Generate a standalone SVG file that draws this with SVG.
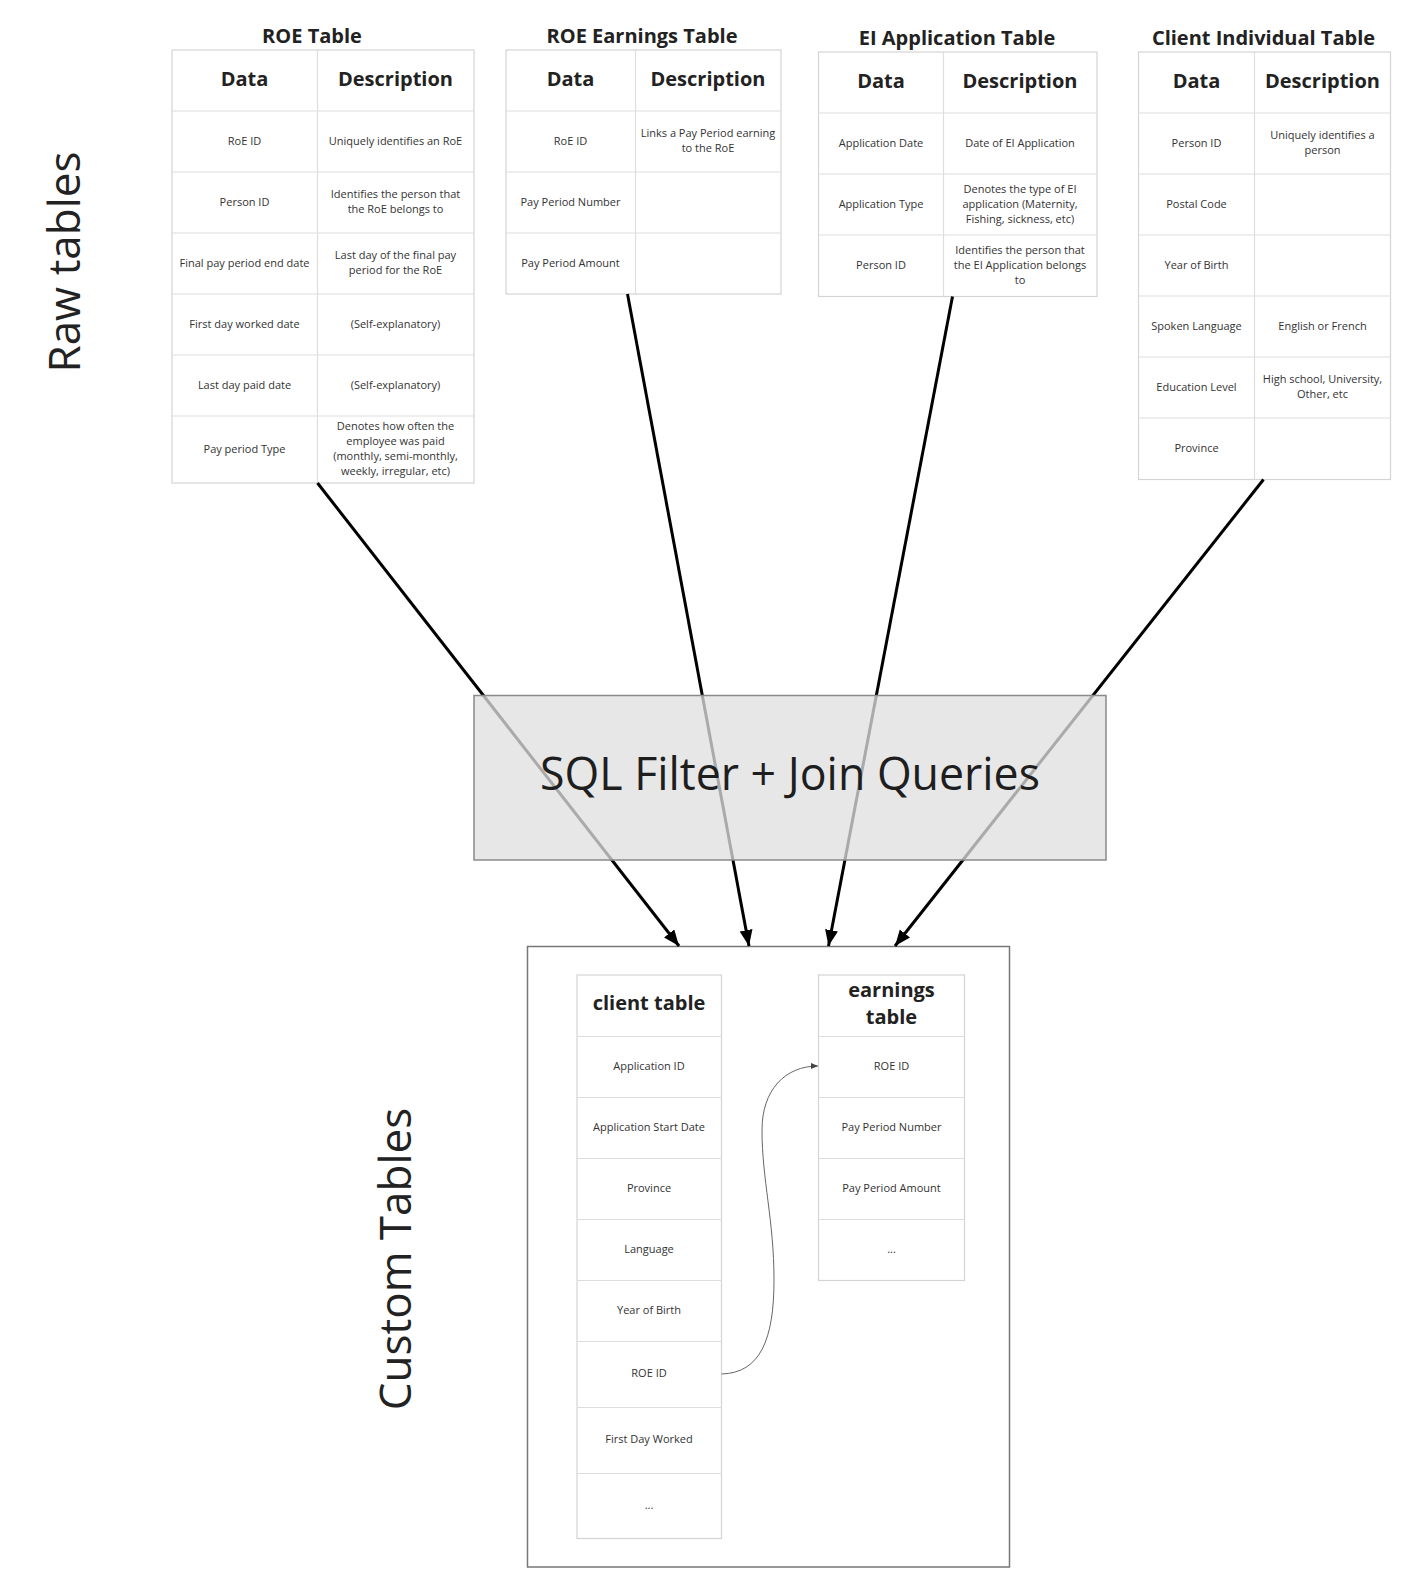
<svg xmlns="http://www.w3.org/2000/svg" width="1411" height="1594" viewBox="0 0 1411 1594">
<style>
.bg{fill:#ffffff}
.tbl{fill:#ffffff;stroke:#d4d4d4;stroke-width:1.2}
.grid{stroke:#dedede;stroke-width:1.2;fill:none}
.title{font-family:"Open Sans","Liberation Sans",sans-serif;font-weight:bold;font-size:20px;fill:#222;text-anchor:middle}
.hdr{font-family:"Open Sans","Liberation Sans",sans-serif;font-weight:bold;font-size:20px;fill:#222;text-anchor:middle;dominant-baseline:central;transform:translateY(-2px)}
.cell{font-family:"Open Sans","Liberation Sans",sans-serif;font-size:11px;fill:#333;text-anchor:middle;dominant-baseline:central;transform:translateY(-1.5px)}
.big{font-family:"Open Sans","Liberation Sans",sans-serif;font-size:44px;fill:#222;text-anchor:middle}
.sqltxt{font-family:"Open Sans","Liberation Sans",sans-serif;font-size:46px;fill:#1e1e1e;text-anchor:middle}
.conn{stroke:#000;stroke-width:3;fill:none}
.link{stroke:#666;stroke-width:1;fill:none}
</style>
<defs>
<marker id="arr" markerUnits="userSpaceOnUse" markerWidth="18" markerHeight="14" refX="16" refY="6.5" orient="auto">
<path d="M0,0 L16,6.5 L0,13 z" fill="#000"/>
</marker>
<marker id="arrs" markerUnits="userSpaceOnUse" markerWidth="8" markerHeight="6" refX="7" refY="3" orient="auto">
<path d="M0,0 L7,3 L0,6 z" fill="#444"/>
</marker>
</defs>
<rect class="bg" x="0" y="0" width="1411" height="1594"/>

<g id="label-raw"><text class="big" transform="translate(80,262) rotate(-90)">Raw tables</text></g>
<g id="label-custom"><text class="big" transform="translate(411,1259) rotate(-90)">Custom Tables</text></g>

<g id="roe-table">
<text class="title" x="312" y="42.5">ROE Table</text>
<rect class="tbl" x="172" y="50" width="302" height="433"/>
<path class="grid" d="M317.5,50V483 M172,111H474 M172,172H474 M172,233H474 M172,294H474 M172,355H474 M172,416H474"/>
<text class="hdr" x="244.5" y="80.5">Data</text>
<text class="hdr" x="395.5" y="80.5">Description</text>
<text class="cell" x="244.5" y="141.5">RoE ID</text>
<text class="cell" x="395.5" y="141.5">Uniquely identifies an RoE</text>
<text class="cell" x="244.5" y="202.5">Person ID</text>
<text class="cell" x="395.5" y="195">Identifies the person that</text>
<text class="cell" x="395.5" y="210">the RoE belongs to</text>
<text class="cell" x="244.5" y="263.5">Final pay period end date</text>
<text class="cell" x="395.5" y="256">Last day of the final pay</text>
<text class="cell" x="395.5" y="271">period for the RoE</text>
<text class="cell" x="244.5" y="324.5">First day worked date</text>
<text class="cell" x="395.5" y="324.5">(Self-explanatory)</text>
<text class="cell" x="244.5" y="385.5">Last day paid date</text>
<text class="cell" x="395.5" y="385.5">(Self-explanatory)</text>
<text class="cell" x="244.5" y="449.5">Pay period Type</text>
<text class="cell" x="395.5" y="427">Denotes how often the</text>
<text class="cell" x="395.5" y="442">employee was paid</text>
<text class="cell" x="395.5" y="457">(monthly, semi-monthly,</text>
<text class="cell" x="395.5" y="472">weekly, irregular, etc)</text>
</g>

<g id="roe-earnings-table">
<text class="title" x="642" y="42.5">ROE Earnings Table</text>
<rect class="tbl" x="506" y="50" width="275" height="244"/>
<path class="grid" d="M635.5,50V294 M506,111H781 M506,172H781 M506,233H781"/>
<text class="hdr" x="570.5" y="80.5">Data</text>
<text class="hdr" x="708" y="80.5">Description</text>
<text class="cell" x="570.5" y="141.5">RoE ID</text>
<text class="cell" x="708" y="134">Links a Pay Period earning</text>
<text class="cell" x="708" y="149">to the RoE</text>
<text class="cell" x="570.5" y="202.5">Pay Period Number</text>
<text class="cell" x="570.5" y="263.5">Pay Period Amount</text>
</g>

<g id="ei-application-table">
<text class="title" x="957" y="45">EI Application Table</text>
<rect class="tbl" x="818.5" y="52" width="278.5" height="244.5"/>
<path class="grid" d="M943.5,52V296.5 M818.5,113H1097 M818.5,174H1097 M818.5,235H1097"/>
<text class="hdr" x="881" y="82.5">Data</text>
<text class="hdr" x="1020" y="82.5">Description</text>
<text class="cell" x="881" y="143.5">Application Date</text>
<text class="cell" x="1020" y="143.5">Date of EI Application</text>
<text class="cell" x="881" y="204.5">Application Type</text>
<text class="cell" x="1020" y="189.5">Denotes the type of EI</text>
<text class="cell" x="1020" y="204.5">application (Maternity,</text>
<text class="cell" x="1020" y="219.5">Fishing, sickness, etc)</text>
<text class="cell" x="881" y="265.5">Person ID</text>
<text class="cell" x="1020" y="250.5">Identifies the person that</text>
<text class="cell" x="1020" y="265.5">the EI Application belongs</text>
<text class="cell" x="1020" y="280.5">to</text>
</g>

<g id="client-individual-table">
<text class="title" x="1263.5" y="45">Client Individual Table</text>
<rect class="tbl" x="1138.5" y="52" width="252" height="427.5"/>
<path class="grid" d="M1254.5,52V479.5 M1138.5,113H1390.5 M1138.5,174H1390.5 M1138.5,235H1390.5 M1138.5,296H1390.5 M1138.5,357H1390.5 M1138.5,418H1390.5"/>
<text class="hdr" x="1196.5" y="82.5">Data</text>
<text class="hdr" x="1322.5" y="82.5">Description</text>
<text class="cell" x="1196.5" y="143.5">Person ID</text>
<text class="cell" x="1322.5" y="136">Uniquely identifies a</text>
<text class="cell" x="1322.5" y="151">person</text>
<text class="cell" x="1196.5" y="204.5">Postal Code</text>
<text class="cell" x="1196.5" y="265.5">Year of Birth</text>
<text class="cell" x="1196.5" y="326.5">Spoken Language</text>
<text class="cell" x="1322.5" y="326.5">English or French</text>
<text class="cell" x="1196.5" y="387.5">Education Level</text>
<text class="cell" x="1322.5" y="380">High school, University,</text>
<text class="cell" x="1322.5" y="395">Other, etc</text>
<text class="cell" x="1196.5" y="449">Province</text>
</g>

<g id="custom-tables">
<rect x="527.5" y="946.5" width="482" height="620.5" fill="none" stroke="#777" stroke-width="1.5"/>
</g>

<g id="client-table">
<rect class="tbl" x="577" y="975" width="144.5" height="563.5"/>
<path class="grid" d="M577,1036.5H721.5 M577,1097.5H721.5 M577,1158.5H721.5 M577,1219.5H721.5 M577,1280.5H721.5 M577,1341.5H721.5 M577,1407.5H721.5 M577,1473.5H721.5"/>
<text class="hdr" x="649" y="1004">client table</text>
<text class="cell" x="649" y="1067">Application ID</text>
<text class="cell" x="649" y="1128">Application Start Date</text>
<text class="cell" x="649" y="1189">Province</text>
<text class="cell" x="649" y="1250">Language</text>
<text class="cell" x="649" y="1311">Year of Birth</text>
<text class="cell" x="649" y="1373.5">ROE ID</text>
<text class="cell" x="649" y="1440">First Day Worked</text>
<text class="cell" x="649" y="1506">...</text>
</g>

<g id="earnings-table">
<rect class="tbl" x="818.5" y="975" width="146" height="305.5"/>
<path class="grid" d="M818.5,1036.5H964.5 M818.5,1097.5H964.5 M818.5,1158.5H964.5 M818.5,1219.5H964.5"/>
<text class="hdr" x="891.5" y="991">earnings</text>
<text class="hdr" x="891.5" y="1018">table</text>
<text class="cell" x="891.5" y="1067">ROE ID</text>
<text class="cell" x="891.5" y="1128">Pay Period Number</text>
<text class="cell" x="891.5" y="1189">Pay Period Amount</text>
<text class="cell" x="891.5" y="1250">...</text>
</g>

<g id="connectors">
<line class="conn" x1="317.5" y1="483" x2="679" y2="946" marker-end="url(#arr)"/>
<line class="conn" x1="627.5" y1="294" x2="749" y2="946" marker-end="url(#arr)"/>
<line class="conn" x1="952.5" y1="296.5" x2="828.5" y2="946" marker-end="url(#arr)"/>
<line class="conn" x1="1263.5" y1="479.5" x2="895" y2="946" marker-end="url(#arr)"/>
<path class="link" d="M721.5,1374 C760,1373 774,1340 774,1280 C774,1220 762,1180 762,1130 C762,1090 785,1066 818,1066" marker-end="url(#arrs)"/>
</g>

<g id="sql-box">
<rect x="474" y="695.5" width="632" height="164.5" fill="#e0e0e0" fill-opacity="0.76" stroke="#8a8a8a" stroke-width="1.5"/>
<text class="sqltxt" x="790" y="790" textLength="500" lengthAdjust="spacingAndGlyphs">SQL Filter + Join Queries</text>
</g>
</svg>
